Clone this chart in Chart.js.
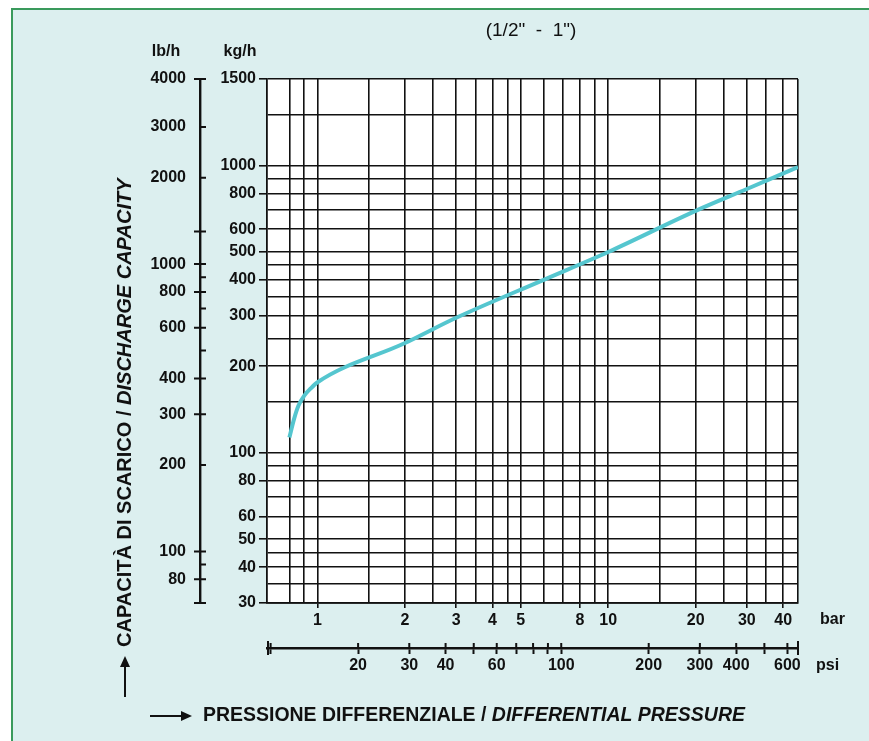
<!DOCTYPE html>
<html>
<head>
<meta charset="utf-8">
<script src="https://cdn.jsdelivr.net/npm/chart.js@4.4.0/dist/chart.umd.min.js"></script>
<style>
html, body { margin:0; padding:0; background:#fff; overflow:hidden; }
#frame { position:absolute; left:11px; top:8px; width:880px; height:760px; background:#dcefef; border-left:2px solid #3a9a5c; border-top:2px solid #3a9a5c; }
#wrap { position:absolute; left:0; top:0; width:869px; height:741px; }
</style>
</head>
<body>
<div id="frame"></div>
<div id="wrap"><canvas id="mycanvas"></canvas></div>
<script>
// curve: differential pressure (bar) -> discharge capacity (kg/h)
var pressure_bar = [0.8, 0.83, 0.86, 0.9, 0.95, 1.0, 2, 3, 6, 10, 20, 30, 45];
var capacity_kg  = [113, 131, 146, 158, 168, 176, 241, 295, 400, 500, 695, 828, 987];

// axes
var bar_min = 0.67, bar_max = 45;
var kg_min = 30, kg_max = 2000;
var grid_bar  = [0.8, 0.9, 1, 1.5, 2, 2.5, 3, 3.5, 4, 4.5, 5, 6, 7, 8, 9, 10, 15, 20, 25, 30, 35, 40, 45];
var label_bar = [1, 2, 3, 4, 5, 8, 10, 20, 30, 40];
var grid_kg  = [30, 35, 40, 45, 50, 60, 70, 80, 90, 100, 150, 200, 250, 300, 350, 400, 450, 500, 600, 700, 800, 900, 1000, 1500, 2000];
var label_kg = [30, 40, 50, 60, 80, 100, 200, 300, 400, 500, 600, 800, 1000];
var top_label_kg = "1500";
var ticks_psi = [10, 20, 30, 40, 50, 60, 70, 80, 90, 100, 200, 300, 400, 500, 600];
var label_psi = [20, 30, 40, 60, 100, 200, 300, 400, 600];
var ticks_lb = [80, 90, 100, 200, 300, 400, 500, 600, 700, 800, 900, 1000, 1300, 2000, 3000];
var label_lb = [80, 100, 200, 300, 400, 600, 800, 1000, 2000, 3000];
var cross_lb = [80, 100, 300, 400, 600, 800, 1000, 1300];
var top_label_lb = "4000";

var PSI_PER_BAR = 14.5038;
var LB_PER_KG = 1 / 0.4536;

var FONT = '"Liberation Sans", Arial, sans-serif';
var tickFont = { family: FONT, size: 16, weight: 'bold' };
var INK = '#111111';

function has(list, v) {
	for (var i = 0; i < list.length; i++) {
		if (Math.abs(list[i] - v) < 1e-6) return true;
	}
	return false;
}
function setTicks(list) {
	return function(scale) {
		scale.ticks = list.map(function(v){ return { value: v }; });
	};
}

var points = [];
for (var i in pressure_bar) {
	points.push({ x: pressure_bar[i], y: capacity_kg[i] });
}

function drawSegs(c, segs, x, y, size) {
	var w = 0;
	for (var i = 0; i < segs.length; i++) {
		c.font = segs[i].style + ' ' + size + 'px ' + FONT;
		c.fillText(segs[i].text, x + w, y);
		w += c.measureText(segs[i].text).width;
	}
	return w;
}
function segsWidth(c, segs, size) {
	var w = 0;
	for (var i = 0; i < segs.length; i++) {
		c.font = segs[i].style + ' ' + size + 'px ' + FONT;
		w += c.measureText(segs[i].text).width;
	}
	return w;
}

var extras = {
	id: 'extras',
	beforeDraw: function(chart) {
		var a = chart.chartArea, c = chart.ctx;
		c.save();
		c.fillStyle = '#ffffff';
		c.fillRect(a.left, a.top, a.right - a.left, a.bottom - a.top);
		c.restore();
	},
	afterDraw: function(chart) {
		var c = chart.ctx;
		var lb = chart.scales.yLb, psi = chart.scales.xPsi;
		c.save();
		c.strokeStyle = INK;
		c.lineWidth = 2;

		// stubs on the lb/h axis: right side always, left side where the tick crosses
		c.beginPath();
		lb.ticks.forEach(function(t) {
			var y = lb.getPixelForValue(t.value);
			var l = has(cross_lb, t.value) || t.value > 4000 ? lb.right - 6 : lb.right;
			c.moveTo(l, y); c.lineTo(lb.right + 6, y);
		});
		c.moveTo(lb.right - 6, lb.bottom); c.lineTo(lb.right + 6, lb.bottom);
		c.stroke();

		// upper half of psi ticks and end caps
		c.beginPath();
		psi.ticks.forEach(function(t) {
			var x = psi.getPixelForValue(t.value);
			c.moveTo(x, psi.top - 5); c.lineTo(x, psi.top);
		});
		c.moveTo(psi.left + 1, psi.top - 7); c.lineTo(psi.left + 1, psi.top + 7);
		c.moveTo(psi.right, psi.top - 7); c.lineTo(psi.right, psi.top + 7);
		c.stroke();

		c.fillStyle = INK;
		c.textBaseline = 'middle';

		// unit labels
		c.font = 'bold 16px ' + FONT;
		c.textAlign = 'center';
		c.fillText('lb/h', 166, 52);
		c.fillText('kg/h', 240, 52);
		c.textAlign = 'left';
		c.fillText('bar', 820, 620);
		c.fillText('psi', 816, 666);

		// title
		c.font = '19px ' + FONT;
		c.textAlign = 'center';
		c.fillText('(1/2"  -  1")', 531, 31);
		c.textAlign = 'left';

		// bottom axis title
		var segsX = [
			{ text: 'PRESSIONE DIFFERENZIALE / ', style: 'bold' },
			{ text: 'DIFFERENTIAL PRESSURE', style: 'italic bold' }
		];
		var sx = 18 * 542 / segsWidth(c, segsX, 18);
		drawSegs(c, segsX, 203, 716, sx);
		c.lineWidth = 2;
		c.beginPath(); c.moveTo(150, 716); c.lineTo(183, 716); c.stroke();
		c.beginPath(); c.moveTo(192, 716); c.lineTo(181, 711); c.lineTo(181, 721); c.closePath(); c.fill();

		// vertical axis title
		var segsY = [
			{ text: 'CAPACITÀ DI SCARICO / ', style: 'bold' },
			{ text: 'DISCHARGE CAPACITY', style: 'italic bold' }
		];
		var sy = 18 * 469 / segsWidth(c, segsY, 18);
		c.translate(125, 647);
		c.rotate(-Math.PI / 2);
		drawSegs(c, segsY, 0, 0, sy);
		c.beginPath(); c.moveTo(-50, 0); c.lineTo(-18, 0); c.stroke();
		c.beginPath(); c.moveTo(-9, 0); c.lineTo(-20, -5); c.lineTo(-20, 5); c.closePath(); c.fill();
		c.restore();
	}
};

var ctx = document.getElementById('mycanvas');

var chart = new Chart(ctx, {
	type: 'line',
	data: {
		datasets: [{
			label: 'Capacity',
			data: points,
			borderColor: '#55c6cf',
			backgroundColor: '#55c6cf',
			borderWidth: 4,
			pointRadius: 0,
			cubicInterpolationMode: 'monotone',
			fill: false
		}]
	},
	options: {
		responsive: true,
		maintainAspectRatio: false,
		animation: false,
		layout: { padding: { left: 100, top: 79, right: 71, bottom: 58 } },
		plugins: { legend: { display: false }, tooltip: { enabled: false } },
		scales: {
			x: {
				type: 'logarithmic', position: 'bottom', min: bar_min, max: bar_max,
				afterBuildTicks: setTicks(grid_bar),
				afterFit: function(s){ s.height = 45; },
				ticks: {
					autoSkip: false, maxRotation: 0, padding: 3, color: INK, font: tickFont,
					callback: function(v){ return has(label_bar, v) ? String(v) : ''; }
				},
				grid: {
					color: '#111', lineWidth: 1.6, tickLength: 5, tickWidth: 1.6,
					tickColor: function(c){ return c.tick && has(label_bar, c.tick.value) ? INK : 'rgba(0,0,0,0)'; }
				},
				border: { color: INK, width: 1.8 }
			},
			xPsi: {
				type: 'logarithmic', position: 'bottom', display: true,
				min: bar_min * PSI_PER_BAR, max: bar_max * PSI_PER_BAR,
				afterBuildTicks: setTicks(ticks_psi),
				afterFit: function(s){ s.height = 35; },
				ticks: {
					autoSkip: false, maxRotation: 0, padding: 2, color: INK, font: tickFont,
					callback: function(v){ return has(label_psi, v) ? String(v) : ''; }
				},
				grid: { drawOnChartArea: false, tickLength: 6, tickWidth: 2, tickColor: INK },
				border: { color: INK, width: 2.4 }
			},
			y: {
				type: 'logarithmic', position: 'left', min: kg_min, max: kg_max,
				afterBuildTicks: setTicks(grid_kg),
				afterFit: function(s){ s.width = 67; },
				ticks: {
					autoSkip: false, padding: 3, color: INK, font: tickFont,
					callback: function(v){
						if (v === kg_max) return top_label_kg;
						return has(label_kg, v) ? String(v) : '';
					}
				},
				grid: {
					color: '#111', lineWidth: 1.6, tickLength: 8, tickWidth: 1.6,
					tickColor: function(c){ return c.tick && (has(label_kg, c.tick.value) || c.tick.value === kg_max) ? INK : 'rgba(0,0,0,0)'; }
				},
				border: { color: INK, width: 1.8 }
			},
			yLb: {
				type: 'logarithmic', position: 'left', display: true,
				min: kg_min * LB_PER_KG, max: kg_max * LB_PER_KG,
				afterBuildTicks: function(s){
					s.ticks = ticks_lb.map(function(v){ return { value: v }; });
					s.ticks.push({ value: kg_max * LB_PER_KG });
				},
				afterFit: function(s){ s.width = 100; },
				ticks: {
					autoSkip: false, padding: 8, color: INK, font: tickFont,
					callback: function(v){
						if (Math.abs(v - kg_max * LB_PER_KG) < 1e-6) return top_label_lb;
						return has(label_lb, v) ? String(v) : '';
					}
				},
				grid: { drawOnChartArea: false, tickLength: 6, tickWidth: 2, tickColor: 'rgba(0,0,0,0)' },
				border: { color: INK, width: 2.4 }
			}
		}
	},
	plugins: [extras]
});
</script>
</body>
</html>
